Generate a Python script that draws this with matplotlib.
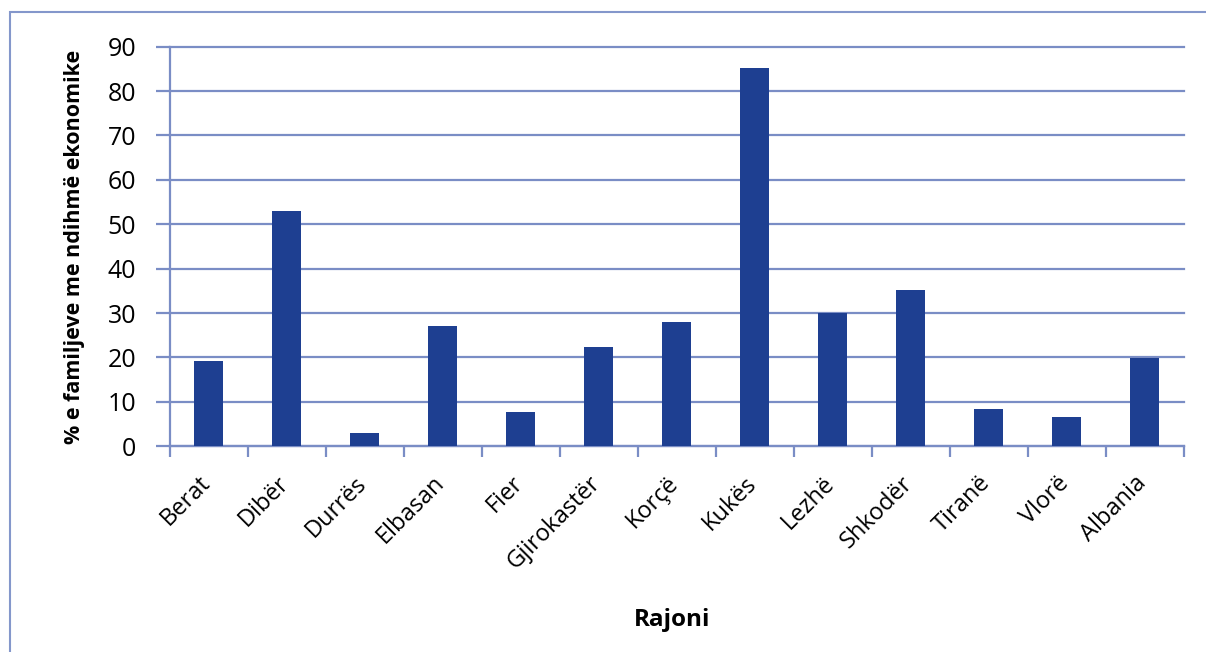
import matplotlib.pyplot as plt
import matplotlib.transforms as mtransforms
from matplotlib.patches import Rectangle

regions = ["Berat", "Dibër", "Durrës", "Elbasan", "Fier", "Gjirokastër", "Korçë",
           "Kukës", "Lezhë", "Shkodër", "Tiranë", "Vlorë", "Albania"]
pct_help = [19.2, 53.0, 3.0, 27.2, 7.7, 22.4, 28.0, 85.2, 30.0, 35.2, 8.4, 6.6, 19.9]
y_ticks = [0, 10, 20, 30, 40, 50, 60, 70, 80, 90]

BAR = "#1E3F91"
GRID = "#7A8DC5"

plt.rcParams["font.family"] = ["Open Sans", "DejaVu Sans"]

W, H = 1206, 652
fig = plt.figure(figsize=(W / 100, H / 100), dpi=100)
ax_w = 1183.7 - 169.7
ax = fig.add_axes([169.7 / W, 1 - 446.3 / H, ax_w / W, (446.3 - 46.7) / H])

x = list(range(len(regions)))
ax.bar(x, pct_help, width=0.37, color=BAR, zorder=3)

ax.set_xlim(-0.5, len(regions) - 0.5)
ax.set_ylim(0, 90)
ax.set_yticks(y_ticks)
ax.yaxis.grid(True, color=GRID, linewidth=1.6)
for gl in ax.get_ygridlines():
    gl.set_clip_on(False)
ax.set_axisbelow(True)

for s in ["top", "right"]:
    ax.spines[s].set_visible(False)
for s in ["left", "bottom"]:
    ax.spines[s].set_color(GRID)
    ax.spines[s].set_linewidth(1.6)

# ticks sit on category boundaries; names are placed under each bar
ax.set_xticks([i - 0.5 for i in range(len(regions) + 1)])
ax.set_xticklabels([])
ax.tick_params(axis="x", length=8, width=1.6, color=GRID, direction="out")
ax.tick_params(axis="y", length=10, width=1.6, color=GRID, labelsize=18, pad=14)

name_tr = mtransforms.blended_transform_factory(ax.transData, ax.transAxes) + \
    mtransforms.ScaledTranslation(-10 / 100, -25 / 100, fig.dpi_scale_trans)
for xi, name in zip(x, regions):
    ax.text(xi, 0, name, transform=name_tr, rotation=45, rotation_mode="anchor",
            ha="right", va="top", fontsize=17)

ax.set_ylabel("% e familjeve me ndihmë ekonomike", fontsize=15.5, fontweight="bold")
ax.yaxis.set_label_coords(-85 / ax_w, 0.5)
fig.text(672 / W, 1 - 620 / H, "Rajoni", fontsize=17.5, fontweight="bold",
         ha="center", va="center")

# outer chart frame
fig.patches.append(Rectangle((10 / W, -0.1), 1.2, 1 - 12 / H + 0.1,
                             transform=fig.transFigure, fill=False,
                             edgecolor="#8497CB", linewidth=1.5))

fig.savefig("out.png", dpi=100)
